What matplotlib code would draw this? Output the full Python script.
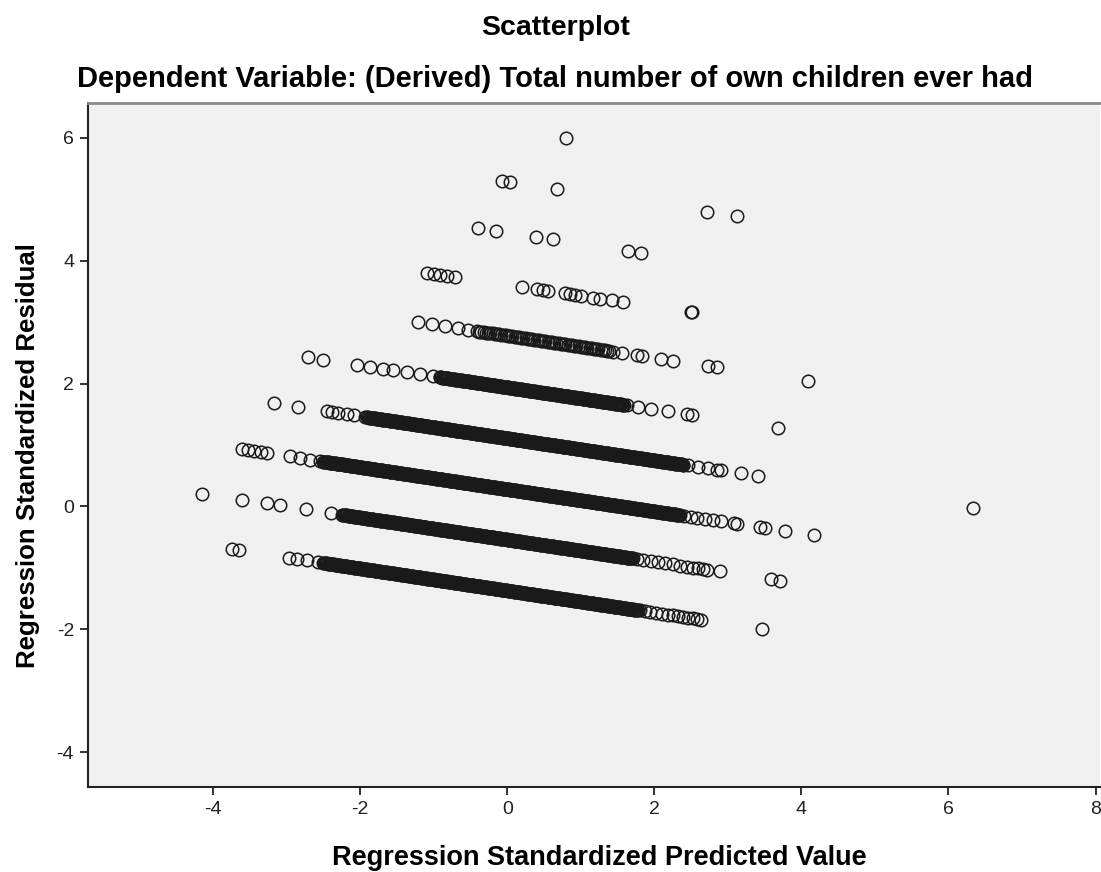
import numpy as np
import matplotlib
matplotlib.use("Agg")
import matplotlib.pyplot as plt

# ---------------- data ----------------
title = "Scatterplot"
subtitle = "Dependent Variable: (Derived) Total number of own children ever had"
x_label = "Regression Standardized Predicted Value"
y_label = "Regression Standardized Residual"
x_ticks = [-4, -2, 0, 2, 4, 6, 8]
y_ticks = [-4, -2, 0, 2, 4, 6]

# every band = one observed outcome value; residual = intercept + slope * predicted
band_slope = -0.18
band_intercepts = [-1.37, -0.54, 0.28, 1.11, 1.94, 2.78, 3.61, 4.46, 5.29, 6.14]

# individually visible points (predicted value) in each band
band_points = [
    [-3.74, -3.65, -2.97, -2.86, -2.72, -2.57, 1.80, 1.87, 1.94, 2.02, 2.10, 2.18,
     2.25, 2.32, 2.39, 2.46, 2.52, 2.58, 2.64, 3.46],
    [-4.15, -3.61, -3.27, -3.09, -2.74, -2.40, 1.76, 1.85, 1.95, 2.05, 2.15, 2.25,
     2.35, 2.45, 2.53, 2.59, 2.66, 2.72, 2.89, 3.59, 3.71],
    [-3.60, -3.53, -3.44, -3.35, -3.26, -2.96, -2.82, -2.68, -2.55, 2.40, 2.50,
     2.58, 2.69, 2.80, 2.91, 3.09, 3.13, 3.44, 3.50, 3.78, 4.17],
    [-3.17, -2.85, -2.45, -2.38, -2.30, -2.18, -2.08, -1.93, 2.46, 2.59, 2.73,
     2.85, 2.91, 3.18, 3.41, 6.34],
    [-2.71, -2.51, -2.04, -1.87, -1.69, -1.55, -1.36, -1.19, -1.01, 1.63, 1.78,
     1.96, 2.18, 2.45, 2.51, 3.68],
    [-1.21, -1.02, -0.85, -0.67, -0.53, 1.44, 1.56, 1.76, 1.83, 2.09, 2.25, 2.73,
     2.85, 4.09],
    [-1.09, -1.00, -0.91, -0.82, -0.71, 0.20, 0.40, 0.48, 0.55, 0.78, 0.85, 0.92,
     1.01, 1.17, 1.26, 1.42, 1.57, 2.50, 2.51],
    [-0.40, -0.15, 0.39, 0.62, 1.64, 1.82],
    [-0.07, 0.04, 0.68, 2.72, 3.13],
    [0.80],
]

# stretches of predicted values where points overlap into a solid band
band_dense_runs = [
    [(-2.50, 1.78)],
    [(-2.24, 1.72)],
    [(-2.50, 2.35)],
    [(-1.90, 2.40)],
    [(-0.92, 1.60)],
    [],
    [], [], [], [],
]
# stretches where the circles form a looser chain
band_chain_runs = [
    [], [], [], [], [],
    [(-0.41, 1.40)],
    [], [], [], [],
]

# ---------------- figure ----------------
plt.rcParams['font.family'] = ['Liberation Sans', 'DejaVu Sans']
plt.rcParams['axes.unicode_minus'] = False
fig = plt.figure(figsize=(11.01, 8.72), dpi=100)
fig.patch.set_facecolor('white')
W, H = 1101, 872
ax = fig.add_axes([88 / W, 1 - 787 / H, (1100 - 88) / W, (787 - 103) / H])
ax.set_facecolor('#f0f0f0')

xs_all, ys_all = [], []
for k, b in enumerate(band_intercepts):
    xs = list(band_points[k])
    for (a, c) in band_dense_runs[k]:
        xs.extend(np.arange(a, c, 0.012))
    for (a, c) in band_chain_runs[k]:
        xs.extend(np.arange(a, c, 0.03))
    xs = np.asarray(xs, dtype=float)
    xs_all.append(xs)
    ys_all.append(b + band_slope * xs)
xv = np.concatenate(xs_all)
yv = np.concatenate(ys_all)
ax.plot(xv, yv, linestyle='none', marker='o', markersize=9.0,
        markerfacecolor='none', markeredgecolor='#1a1a1a', markeredgewidth=1.1)

ax.set_xlim(-5.70, 8.06)
ax.set_ylim(-4.57, 6.57)
ax.set_xticks(x_ticks)
ax.set_yticks(y_ticks)
ax.tick_params(direction='out', length=6, width=1.3, colors='#222222',
               labelsize=14, pad=4)

for side in ['left', 'bottom']:
    ax.spines[side].set_linewidth(1.5)
    ax.spines[side].set_color('#222222')
ax.spines['top'].set_linewidth(2.0)
ax.spines['top'].set_color('#8a8a8a')
ax.spines['right'].set_visible(False)

fig.text(556 / W, 1 - 28 / H, title, ha='center', va='center',
         fontsize=20.5, fontweight='bold')
fig.text(554.5 / W, 1 - 79 / H, subtitle, ha='center', va='center',
         fontsize=21, fontweight='bold')
fig.text(599.5 / W, 1 - 858 / H, x_label, ha='center', va='center',
         fontsize=19.5, fontweight='bold')
fig.text(28 / W, 1 - 456 / H, y_label, ha='center', va='center', rotation=90,
         fontsize=18.6, fontweight='bold')

fig.savefig('out.png', dpi=100)
